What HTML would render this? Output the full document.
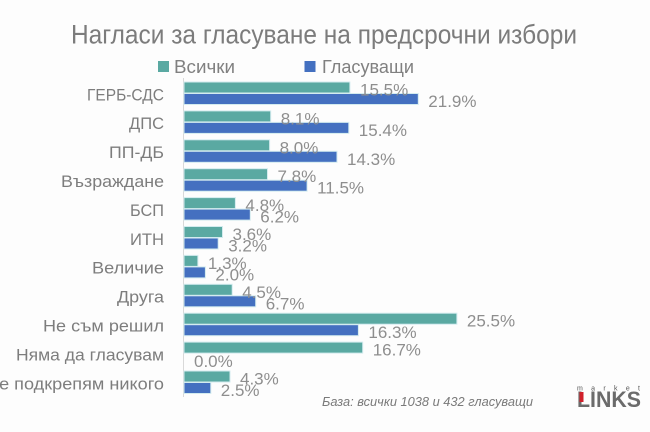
<!DOCTYPE html>
<html><head><meta charset="utf-8">
<style>
html,body{margin:0;padding:0;background:#fff;}
svg{display:block;}
text{font-family:"Liberation Sans","DejaVu Sans",sans-serif;}
</style></head>
<body>
<svg width="650" height="432" viewBox="0 0 650 432" xmlns="http://www.w3.org/2000/svg">
<rect x="0" y="0" width="650" height="432" fill="#fdfdfd"/>
<!-- Title -->
<text x="71" y="43.5" font-size="27" fill="#7c7c7c" textLength="506" lengthAdjust="spacingAndGlyphs">Нагласи за гласуване на предсрочни избори</text>
<!-- Legend -->
<rect x="158" y="61" width="11" height="11" fill="#5aa9a2"/>
<text x="174" y="73" font-size="18" fill="#808080" textLength="61" lengthAdjust="spacingAndGlyphs">Всички</text>
<rect x="304.5" y="61" width="11" height="11" fill="#4470c0"/>
<text x="322" y="73" font-size="18" fill="#808080" textLength="92" lengthAdjust="spacingAndGlyphs">Гласуващи</text>
<!-- axis -->
<line x1="183.5" y1="78" x2="183.5" y2="397" stroke="#d9d9d9" stroke-width="1"/>
<g id="bars" stroke="#d4ecef" stroke-width="1">
<rect x="184" y="82" width="165.9" height="11" fill="#5aa9a2"/>
<rect x="184" y="93.5" width="234.3" height="11" fill="#4470c0"/>
<rect x="184" y="110.9" width="86.7" height="11" fill="#5aa9a2"/>
<rect x="184" y="122.4" width="164.8" height="11" fill="#4470c0"/>
<rect x="184" y="139.8" width="85.6" height="11" fill="#5aa9a2"/>
<rect x="184" y="151.3" width="153" height="11" fill="#4470c0"/>
<rect x="184" y="168.7" width="83.5" height="11" fill="#5aa9a2"/>
<rect x="184" y="180.2" width="123.1" height="11" fill="#4470c0"/>
<rect x="184" y="197.6" width="51.4" height="11" fill="#5aa9a2"/>
<rect x="184" y="209.1" width="66.3" height="11" fill="#4470c0"/>
<rect x="184" y="226.5" width="38.5" height="11" fill="#5aa9a2"/>
<rect x="184" y="238" width="34.2" height="11" fill="#4470c0"/>
<rect x="184" y="255.4" width="13.9" height="11" fill="#5aa9a2"/>
<rect x="184" y="266.9" width="21.4" height="11" fill="#4470c0"/>
<rect x="184" y="284.3" width="48.2" height="11" fill="#5aa9a2"/>
<rect x="184" y="295.8" width="71.7" height="11" fill="#4470c0"/>
<rect x="184" y="313.2" width="272.9" height="11" fill="#5aa9a2"/>
<rect x="184" y="324.7" width="174.4" height="11" fill="#4470c0"/>
<rect x="184" y="342.1" width="178.7" height="11" fill="#5aa9a2"/>
<rect x="184" y="371" width="46" height="11" fill="#5aa9a2"/>
<rect x="184" y="382.5" width="26.8" height="11" fill="#4470c0"/>
</g>
<!-- Category labels -->
<g font-size="17" fill="#7d7d7d" text-anchor="end">
<text x="164" y="100.3" textLength="77" lengthAdjust="spacingAndGlyphs">ГЕРБ-СДС</text>
<text x="164" y="129.2" textLength="35" lengthAdjust="spacingAndGlyphs">ДПС</text>
<text x="164" y="158.1" textLength="55" lengthAdjust="spacingAndGlyphs">ПП-ДБ</text>
<text x="164" y="187" textLength="103" lengthAdjust="spacingAndGlyphs">Възраждане</text>
<text x="164" y="215.9" textLength="34" lengthAdjust="spacingAndGlyphs">БСП</text>
<text x="164" y="244.8" textLength="34" lengthAdjust="spacingAndGlyphs">ИТН</text>
<text x="164" y="273.7" textLength="72" lengthAdjust="spacingAndGlyphs">Величие</text>
<text x="164" y="302.6" textLength="47" lengthAdjust="spacingAndGlyphs">Друга</text>
<text x="164" y="331.5" textLength="121" lengthAdjust="spacingAndGlyphs">Не съм решил</text>
<text x="164" y="360.4" textLength="148" lengthAdjust="spacingAndGlyphs">Няма да гласувам</text>
<text x="164" y="389.3" textLength="178" lengthAdjust="spacingAndGlyphs">Не подкрепям никого</text>
</g>
<!-- Value labels -->
<g font-size="17" fill="#8e8e8e">
<text x="360" y="95.5">15.5%</text>
<text x="428.3" y="107">21.9%</text>
<text x="280.7" y="124.4">8.1%</text>
<text x="358.8" y="135.9">15.4%</text>
<text x="279.6" y="153.3">8.0%</text>
<text x="347" y="164.8">14.3%</text>
<text x="277.5" y="182.2">7.8%</text>
<text x="317.1" y="193.7">11.5%</text>
<text x="245.4" y="211.1">4.8%</text>
<text x="260.3" y="222.6">6.2%</text>
<text x="232.5" y="240">3.6%</text>
<text x="228.2" y="251.5">3.2%</text>
<text x="207.9" y="268.9">1.3%</text>
<text x="215.4" y="280.4">2.0%</text>
<text x="242.2" y="297.8">4.5%</text>
<text x="265.7" y="309.3">6.7%</text>
<text x="466.9" y="326.7">25.5%</text>
<text x="368.4" y="338.2">16.3%</text>
<text x="372.7" y="355.6">16.7%</text>
<text x="194" y="367.1">0.0%</text>
<text x="240" y="384.5">4.3%</text>
<text x="220.8" y="396">2.5%</text>
</g>
<!-- Footnote -->
<text x="322" y="406" font-size="13" font-style="italic" fill="#7a7a7a" textLength="211" lengthAdjust="spacingAndGlyphs">База: всички 1038 и 432 гласуващи</text>
<!-- Logo -->
<text x="577" y="390.5" font-size="7" fill="#555" textLength="63" lengthAdjust="spacing">market</text>
<text x="577" y="407" font-size="22" font-weight="bold" fill="#6b6b6b" textLength="64" lengthAdjust="spacingAndGlyphs">LINKS</text>
<rect x="579.5" y="392" width="4" height="10" fill="#d0202a"/>
</svg>
</body></html>
